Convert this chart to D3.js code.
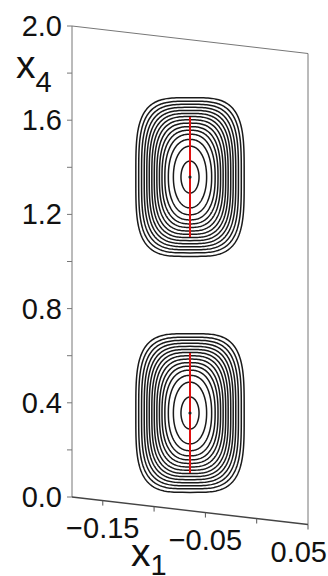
<!DOCTYPE html>
<html>
<head>
<meta charset="utf-8">
<script src="https://cdn.jsdelivr.net/npm/d3@7"></script>
<style>
  html, body { margin: 0; padding: 0; background: #fff; }
  svg { display: block; }
  text { font-family: "Liberation Sans", Arial, sans-serif; fill: #111; }
</style>
</head>
<body>
<svg id="chart" width="328" height="576"></svg>
<script>
// Axis ranges and ticks
const x1Domain = [-0.18, 0.05];
const x4Domain = [0, 2];
const x1TickLabels = [-0.15, -0.05, 0.05];
const x1MinorTicks = [-0.15, -0.10, -0.05, 0.00, 0.05];
const x4TickLabels = [0.0, 0.4, 0.8, 1.2, 1.6, 2.0];
const x4MinorTicks = [0.2, 0.6, 1.0, 1.4, 1.8];

// Centres of the two basins (x1, x4)
const centresX1 = [-0.065, -0.065];
const centresX4 = [1.417, 0.415];

// Half-extent of the red segment through each centre (x4 units)
const segmentHalf = 0.255;

// Contour rings, outer to inner: half-width (x1), half-height (x4), shape exponent
const ringHalfX1 = [0.0528, 0.0500, 0.0472, 0.0446, 0.0421, 0.0397, 0.0372, 0.0348,
                    0.0323, 0.0298, 0.0273, 0.0245, 0.0211, 0.0162, 0.0088];
const ringHalfX4 = [0.337, 0.322, 0.309, 0.296, 0.283, 0.270, 0.257, 0.243,
                    0.229, 0.214, 0.199, 0.182, 0.160, 0.131, 0.068];
const ringPower  = [3.7, 3.6, 3.5, 3.4, 3.3, 3.2, 3.1, 3.0,
                    2.85, 2.7, 2.55, 2.4, 2.25, 2.1, 2.0];

const svg = d3.select("#chart");

const xScale = d3.scaleLinear().domain(x1Domain).range([72, 308]);
const yScale = d3.scaleLinear().domain(x4Domain).range([497, 26]);
// oblique view: the plane drops as x1 increases
const skew = 27.5 / (xScale.range()[1] - xScale.range()[0]);
function proj(x1, x4) {
  const sx = xScale(x1);
  return [sx, yScale(x4) + (sx - xScale.range()[0]) * skew];
}

// Frame of the plane
const [xa, xb] = x1Domain, [ya, yb] = x4Domain;
const line = d3.line();
svg.append("path")
  .attr("d", line([proj(xa, ya), proj(xa, yb), proj(xb, yb), proj(xb, ya)]))
  .attr("fill", "none").attr("stroke", "#777").attr("stroke-width", 1);
svg.append("path")
  .attr("d", line([proj(xa, ya), proj(xb, ya)]))
  .attr("fill", "none").attr("stroke", "#444").attr("stroke-width", 1.4);

// x4 axis ticks and labels
const allY = x4TickLabels.concat(x4MinorTicks);
svg.selectAll(".ytick").data(allY).join("line")
  .attr("x1", d => proj(xa, d)[0] - 5).attr("x2", d => proj(xa, d)[0])
  .attr("y1", d => proj(xa, d)[1]).attr("y2", d => proj(xa, d)[1])
  .attr("stroke", "#777").attr("stroke-width", 1);
svg.selectAll(".ylab").data(x4TickLabels).join("text")
  .attr("x", 62).attr("y", d => proj(xa, d)[1] + 10)
  .attr("text-anchor", "end").attr("font-size", 29)
  .text(d => d3.format(".1f")(d));

// x1 axis ticks and labels
svg.selectAll(".xtick").data(x1MinorTicks).join("line")
  .attr("x1", d => proj(d, ya)[0]).attr("x2", d => proj(d, ya)[0])
  .attr("y1", d => proj(d, ya)[1]).attr("y2", d => proj(d, ya)[1] + 5)
  .attr("stroke", "#555").attr("stroke-width", 1);
const xl = svg.selectAll(".xlab").data(x1TickLabels).join("text")
  .attr("x", d => proj(d, ya)[0]).attr("y", d => proj(d, ya)[1] + 37)
  .attr("text-anchor", "middle").attr("font-size", 29)
  .text(d => d3.format(".2f")(d).replace("-", "\u2212"));
xl.each(function () {
  const w = this.getComputedTextLength();
  const x = +this.getAttribute("x");
  if (x + w / 2 > 327) this.setAttribute("x", 327 - w / 2);
});

// Axis titles
const t4 = svg.append("text").attr("x", 16).attr("y", 78);
t4.append("tspan").attr("font-size", 39).text("x");
t4.append("tspan").attr("font-size", 29).attr("dy", 14).text("4");
const t1 = svg.append("text").attr("x", 131).attr("y", 566);
t1.append("tspan").attr("font-size", 39).text("x");
t1.append("tspan").attr("font-size", 29).attr("dy", 9).text("1");

// Contour rings
const ring = d3.line().curve(d3.curveLinearClosed);
const N = 240;
centresX1.forEach((cx1, k) => {
  const cx4 = centresX4[k];
  const [cx, cy] = proj(cx1, cx4);
  const g = svg.append("g");
  ringHalfX1.forEach((hx, i) => {
    const a = xScale(cx1 + hx) - xScale(cx1);
    const b = yScale(cx4 - ringHalfX4[i]) - yScale(cx4);
    const e = 2 / ringPower[i];
    const pts = d3.range(N).map(j => {
      const t = (j / N) * 2 * Math.PI;
      const c = Math.cos(t), s = Math.sin(t);
      return [cx + a * Math.sign(c) * Math.pow(Math.abs(c), e),
              cy + b * Math.sign(s) * Math.pow(Math.abs(s), e)];
    });
    g.append("path").attr("d", ring(pts))
      .attr("fill", "none").attr("stroke", "#1a1a1a").attr("stroke-width", 1.5);
  });
  // red segment and centre point
  const top = yScale(cx4 + segmentHalf) - yScale(cx4);
  const bot = yScale(cx4 - segmentHalf) - yScale(cx4);
  g.append("line")
    .attr("x1", cx).attr("x2", cx).attr("y1", cy + top).attr("y2", cy + bot)
    .attr("stroke", "#e01010").attr("stroke-width", 2);
  g.append("circle").attr("cx", cx).attr("cy", cy).attr("r", 1.6).attr("fill", "#222");
});
</script>
</body>
</html>
